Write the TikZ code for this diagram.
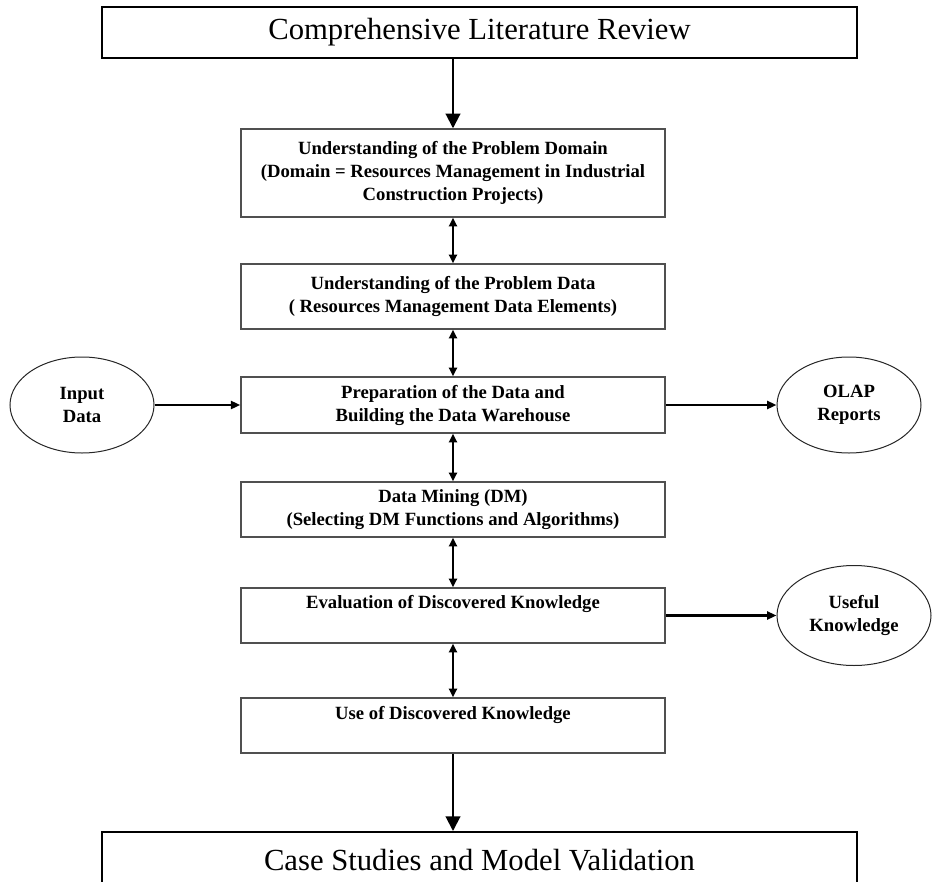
\documentclass[tikz,border=0pt]{standalone}
\usepackage{fontspec}
\setmainfont{Liberation Serif}
\usetikzlibrary{arrows.meta,shapes.geometric}

\definecolor{boxline}{HTML}{505050}

\tikzset{
  stagebox/.style={draw=boxline, line width=1.1pt, fill=white,
    minimum width=318pt, inner sep=0pt, align=center,
    font=\bfseries\fontsize{14}{17.25}\selectfont},
  bigbox/.style={draw=black, line width=1.5pt, minimum width=566pt,
    inner sep=0pt, font=\fontsize{23}{27}\selectfont},
  stagelabel/.style={inner sep=0pt, align=center,
    font=\bfseries\fontsize{14}{17.25}\selectfont},
  sidenode/.style={ellipse, draw=black!85, line width=0.75pt, inner sep=0pt,
    align=center, font=\bfseries\fontsize{14}{17.25}\selectfont},
  mainflow/.style={line width=1.5pt, -{Triangle[length=11pt,width=11pt]}},
  twoway/.style={line width=1.6pt,
    {Triangle[length=6.5pt,width=6pt]}-{Triangle[length=6.5pt,width=6pt]}},
  sideflow/.style={line width=1.6pt, -{Triangle[length=7pt,width=6pt]}}
}

\begin{document}
\begin{tikzpicture}[x=0.75pt,y=-0.75pt]
  \useasboundingbox (0,0) rectangle (933,882);

  % top and bottom frames
  \node[bigbox, minimum height=38.25pt] (review) at (479.5,32.5)
    {Comprehensive Literature Review};
  \begin{scope}
    \clip (0,0) rectangle (933,882);
    \node[bigbox, minimum height=42pt] (cases) at (479.5,860)
      {Case Studies and Model Validation};
  \end{scope}

  % process stages
  \node[stagebox, minimum height=66pt] (domain) at (453,173)
    {Understanding of the Problem Domain\\
     (Domain = Resources Management in Industrial\\
     Construction Projects)};
  \node[stagebox, minimum height=48.75pt] (pdata) at (453,296.5)
    {Understanding of the Problem Data\\
     ( Resources Management Data Elements)};
  \node[stagebox, minimum height=42pt] (prep) at (453,405)
    {Preparation of the Data and\\
     Building the Data Warehouse};
  \node[stagebox, minimum height=41.25pt] (mining) at (453,509.5)
    {Data Mining (DM)\\
     (Selecting DM Functions and Algorithms)};
  \node[stagebox, minimum height=41.25pt] (evaluate) at (453,615.5) {};
  \node[stagelabel] (evaluatetxt) at (453,604) {Evaluation of Discovered Knowledge};
  \node[stagebox, minimum height=41.25pt] (use) at (453,725.5) {};
  \node[stagelabel] (usetxt) at (453,715) {Use of Discovered Knowledge};

  % inputs and outputs
  \node[sidenode, minimum width=108pt, minimum height=72pt] (input) at (82,405)
    {Input\\Data};
  \node[sidenode, minimum width=108pt, minimum height=72pt] (olap) at (849,405)
    {OLAP\\Reports};
  \node[sidenode, minimum width=115.5pt, minimum height=75pt] (useful) at (854,615.5)
    {Useful\\Knowledge};

  % connectors
  \draw[mainflow] (review.south -| domain.north) -- (domain.north);
  \draw[twoway] (domain.south) -- (pdata.north);
  \draw[twoway] (pdata.south) -- (prep.north);
  \draw[twoway] (prep.south) -- (mining.north);
  \draw[twoway] (mining.south) -- (evaluate.north);
  \draw[twoway] (evaluate.south) -- (use.north);
  \draw[mainflow] (use.south) -- (use.south |- cases.north);
  \draw[sideflow] (input.east) -- (prep.west);
  \draw[sideflow] (prep.east) -- (olap.west);
  \draw[sideflow] (evaluate.east) -- (useful.west);
\end{tikzpicture}
\end{document}
